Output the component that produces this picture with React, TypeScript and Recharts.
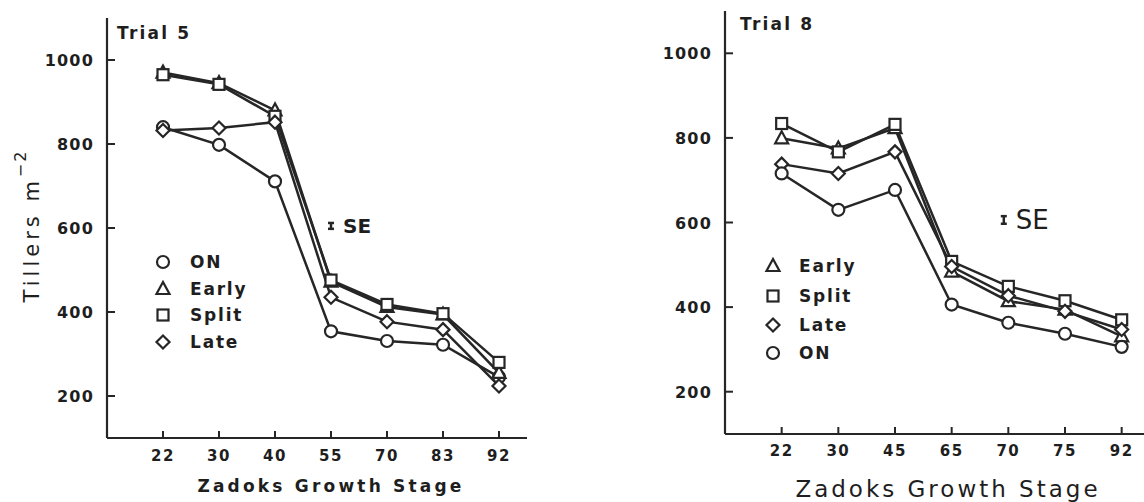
import React from "react";
import { ComposedChart, ErrorBar, Line, Scatter, XAxis, YAxis } from "recharts";

// Zadoks growth stages sampled in each trial
const stagesTrial5 = ["22", "30", "40", "55", "70", "83", "92"];
const stagesTrial8 = ["22", "30", "45", "65", "70", "75", "92"];
const tillerTicks = [200, 400, 600, 800, 1000];

// Tillers per m² — Trial 5
const t5On = [840, 798, 711, 354, 331, 322, 245];
const t5Early = [970, 945, 880, 472, 412, 394, 255];
const t5Split = [965, 942, 866, 476, 418, 396, 280];
const t5Late = [832, 838, 852, 435, 377, 358, 224];

// Tillers per m² — Trial 8
const t8Early = [799, 775, 823, 484, 414, 394, 331];
const t8Split = [834, 767, 832, 508, 449, 415, 370];
const t8Late = [738, 716, 767, 496, 427, 390, 347];
const t8On = [716, 630, 677, 406, 363, 337, 306];

// standard error bars shown beside each plot
const t5Se = [{ i: 3, v: 605, se: 7 }];
const t8Se = [{ i: 3.92, v: 606, se: 9 }];

const INK = "#262626";
const FONT = "'DejaVu Sans', sans-serif";

type Marker = "circle" | "triangle" | "square" | "diamond";

function Mark({ kind, cx, cy }: { kind: Marker; cx: number; cy: number }) {
  const common = { fill: "#fff", stroke: INK, strokeWidth: 2.2 };
  if (kind === "circle") return <circle cx={cx} cy={cy} r={6} {...common} />;
  if (kind === "square") return <rect x={cx - 5.5} y={cy - 5.5} width={11} height={11} {...common} />;
  if (kind === "triangle")
    return <polygon points={`${cx},${cy - 7} ${cx - 6.5},${cy + 5} ${cx + 6.5},${cy + 5}`} {...common} />;
  return <polygon points={`${cx},${cy - 6.5} ${cx + 6.5},${cy} ${cx},${cy + 6.5} ${cx - 6.5},${cy}`} {...common} />;
}

type Series = { name: string; values: number[]; marker: Marker };

function XTick({ x, y, payload, labels, labelDy }: any) {
  return (
    <g>
      <line x1={x} x2={x} y1={y} y2={y - 7} stroke={INK} strokeWidth={2} />
      <text x={x} y={y + labelDy} textAnchor="middle" fontFamily={FONT} fontWeight="bold" fontSize={15} letterSpacing={1.5} fill="#1e1e1e">
        {labels[payload.value]}
      </text>
    </g>
  );
}

function YTick({ x, y, payload }: any) {
  return (
    <g>
      <line x1={x} x2={x + 8} y1={y} y2={y} stroke={INK} strokeWidth={2} />
      <text x={x - 13} y={y + 6} textAnchor="end" fontFamily={FONT} fontWeight="bold" fontSize={16} letterSpacing={1.2} fill="#1e1e1e">
        {payload.value}
      </text>
    </g>
  );
}

type PanelProps = {
  stages: string[];
  series: Series[];
  se: { i: number; v: number; se: number }[];
  left: number;
  width: number;
  margin: { top: number; right: number; bottom: number; left: number };
  labelDy: number;
  seStyle: { fontSize: number; fontWeight: string };
};

function Panel({ stages, series, se, left, width, margin, labelDy, seStyle }: PanelProps) {
  const data = stages.map((_, i) => {
    const row: Record<string, number> = { i };
    series.forEach((s) => (row[s.name] = s.values[i]));
    return row;
  });
  return (
    <div style={{ position: "absolute", left, top: 0 }}>
      <ComposedChart width={width} height={502} data={data} margin={margin}>
        <XAxis
          type="number"
          dataKey="i"
          domain={[-1, 6.5]}
          ticks={[0, 1, 2, 3, 4, 5, 6]}
          allowDataOverflow
          height={50}
          tickSize={0}
          tickMargin={0}
          tickLine={false}
          axisLine={{ stroke: INK, strokeWidth: 2.2 }}
          tick={(p: any) => <XTick {...p} labels={stages} labelDy={labelDy} />}
        />
        <YAxis
          type="number"
          domain={[100, 1100]}
          ticks={tillerTicks}
          allowDataOverflow
          width={60}
          tickSize={0}
          tickMargin={0}
          tickLine={false}
          axisLine={{ stroke: INK, strokeWidth: 2.2 }}
          tick={(p: any) => <YTick {...p} />}
        />
        {series.map((s) => (
          <Line
            key={s.name}
            dataKey={s.name}
            stroke={INK}
            strokeWidth={2.5}
            isAnimationActive={false}
            dot={(p: any) => <Mark key={`${s.name}-${p.index}`} kind={s.marker} cx={p.cx} cy={p.cy} />}
          />
        ))}
        <Scatter
          data={se}
          dataKey="v"
          isAnimationActive={false}
          shape={(p: any) => (
            <text x={p.cx + 12} y={p.cy + seStyle.fontSize * 0.36} fontFamily={FONT} fontSize={seStyle.fontSize} fontWeight={seStyle.fontWeight} fill="#1e1e1e">
              SE
            </text>
          )}
        >
          <ErrorBar dataKey="se" direction="y" width={3} stroke={INK} strokeWidth={2.5} isAnimationActive={false} />
        </Scatter>
      </ComposedChart>
    </div>
  );
}

function LegendRows({ items, symbolX, textX, rows }: { items: Series[]; symbolX: number; textX: number; rows: number[] }) {
  return (
    <>
      {items.map((s, k) => (
        <React.Fragment key={s.name}>
          <svg width={18} height={18} style={{ position: "absolute", left: symbolX - 9, top: rows[k] - 9 }}>
            <Mark kind={s.marker} cx={9} cy={9} />
          </svg>
          <div
            style={{
              position: "absolute",
              left: textX,
              top: rows[k],
              transform: "translateY(-50%)",
              fontFamily: FONT,
              fontWeight: "bold",
              fontSize: 17,
              letterSpacing: 1.8,
              color: "#1e1e1e",
              whiteSpace: "nowrap",
            }}
          >
            {s.name}
          </div>
        </React.Fragment>
      ))}
    </>
  );
}

const label = (extra: React.CSSProperties): React.CSSProperties => ({
  position: "absolute",
  fontFamily: FONT,
  color: "#1e1e1e",
  whiteSpace: "nowrap",
  ...extra,
});

export default function App() {
  const trial5: Series[] = [
    { name: "ON", values: t5On, marker: "circle" },
    { name: "Early", values: t5Early, marker: "triangle" },
    { name: "Split", values: t5Split, marker: "square" },
    { name: "Late", values: t5Late, marker: "diamond" },
  ];
  const trial8: Series[] = [
    { name: "Early", values: t8Early, marker: "triangle" },
    { name: "Split", values: t8Split, marker: "square" },
    { name: "Late", values: t8Late, marker: "diamond" },
    { name: "ON", values: t8On, marker: "circle" },
  ];

  return (
    <div style={{ position: "absolute", left: 0, top: 0, width: 1144, height: 502, overflow: "hidden", background: "#fff" }}>
      <Panel
        stages={stagesTrial5}
        series={trial5}
        se={t5Se}
        left={0}
        width={560}
        margin={{ top: 18, right: 33, bottom: 14, left: 47 }}
        labelDy={23}
        seStyle={{ fontSize: 20, fontWeight: "bold" }}
      />
      <Panel
        stages={stagesTrial8}
        series={trial8}
        se={t8Se}
        left={580}
        width={570}
        margin={{ top: 11, right: 0, bottom: 18, left: 85 }}
        labelDy={22}
        seStyle={{ fontSize: 26, fontWeight: "normal" }}
      />

      <div style={label({ left: 117, top: 33, transform: "translateY(-50%)", fontSize: 17, fontWeight: "bold", letterSpacing: 2.2 })}>Trial 5</div>
      <div style={label({ left: 740, top: 24, transform: "translateY(-50%)", fontSize: 17, fontWeight: "bold", letterSpacing: 2.2 })}>Trial 8</div>

      <LegendRows items={trial5} symbolX={163} textX={190} rows={[262, 289, 315, 342]} />
      <LegendRows items={trial8} symbolX={773} textX={799} rows={[266, 296, 325, 353]} />

      <div style={label({ left: 331, top: 486, transform: "translate(-50%, -50%)", fontSize: 17, fontWeight: "bold", letterSpacing: 3.2 })}>
        Zadoks Growth Stage
      </div>
      <div style={label({ left: 948, top: 489, transform: "translate(-50%, -50%)", fontSize: 23, letterSpacing: 3 })}>
        Zadoks Growth Stage
      </div>

      <div style={label({ left: 32, top: 226, transform: "translate(-50%, -50%) rotate(-90deg)", fontSize: 21, letterSpacing: 4 })}>
        Tillers m
        <span style={{ fontSize: 16, position: "relative", top: -13, letterSpacing: 2 }}>−2</span>
      </div>
    </div>
  );
}
